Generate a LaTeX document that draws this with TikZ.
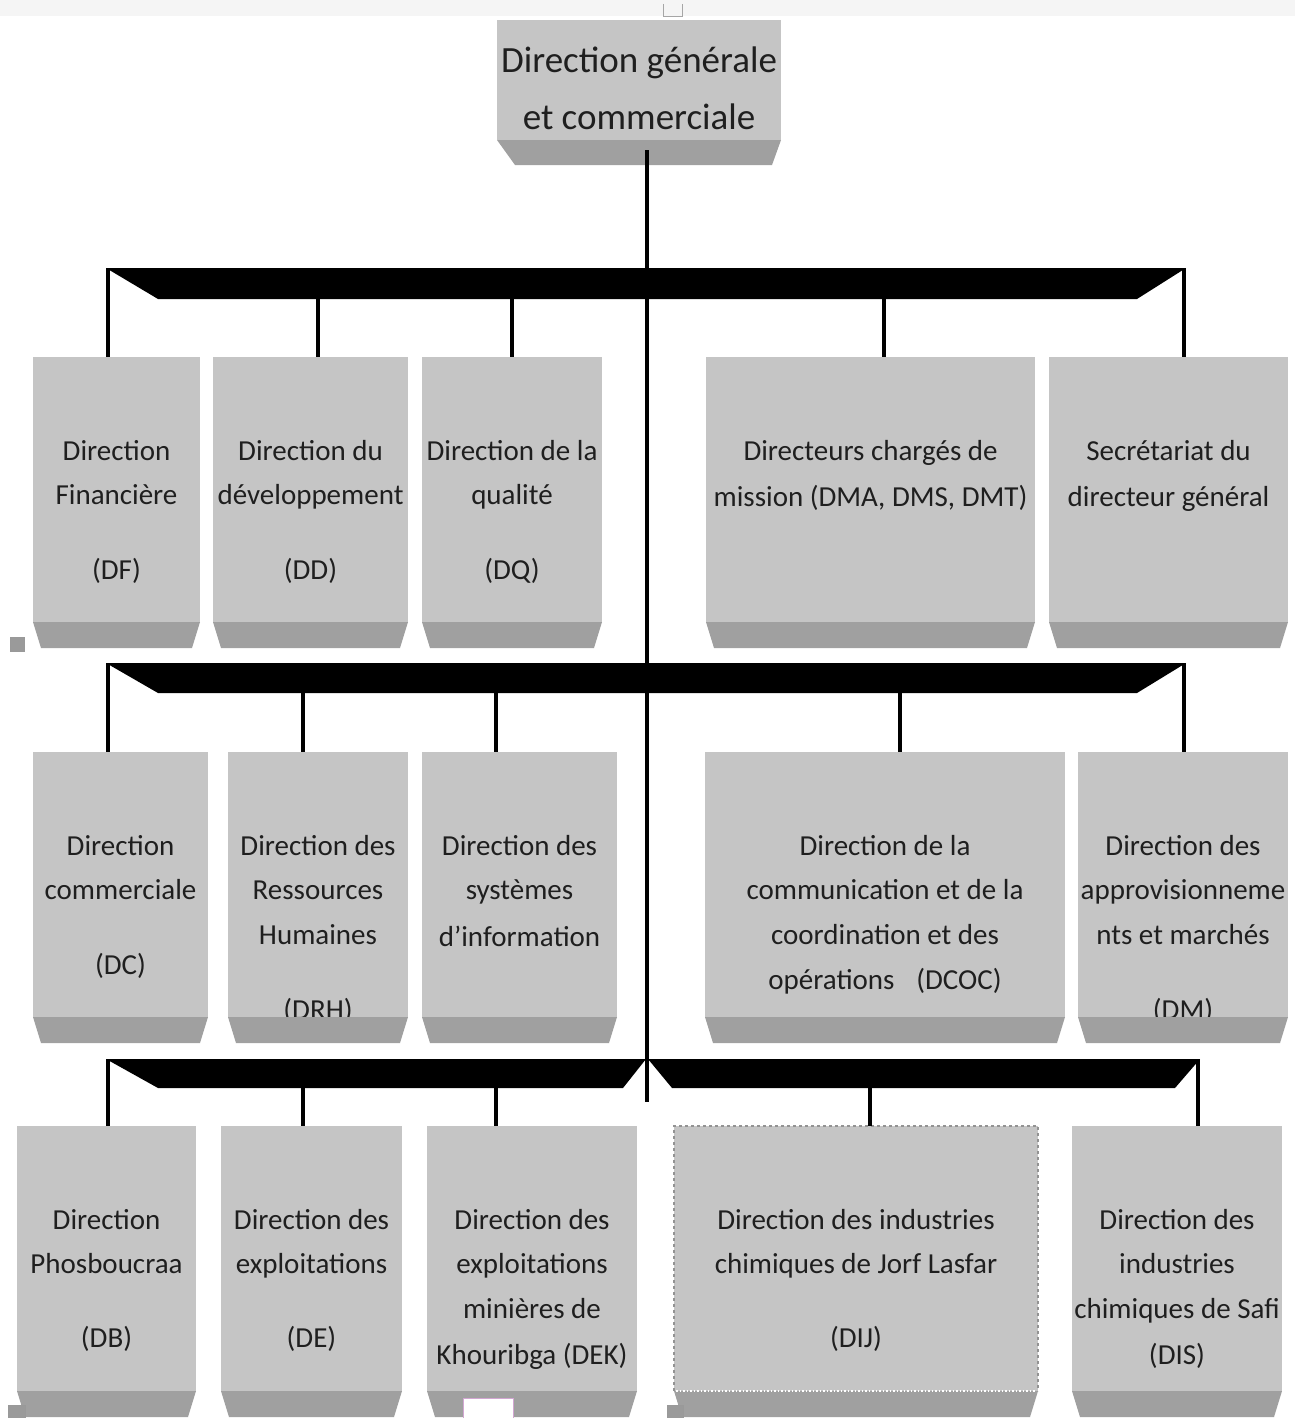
\documentclass[tikz,border=0pt]{standalone}
\usepackage{fontspec}
\setmainfont{Carlito}
\usetikzlibrary{calc}
\definecolor{facegray}{HTML}{C5C5C5}
\definecolor{bevelgray}{HTML}{A0A0A0}
\definecolor{handle}{HTML}{9A9A9A}
\newcommand\facebox[5]{\node[face,minimum width={(#3-#2)*1pt},minimum height={(#5-#4)*1pt}] (#1) at (#2,#4) {};}
\newcommand\bevelbox[2]{\fill[bevelgray] (#1.south west) -- (#1.south east) -- ++(-#2,26) -- ($(#1.south west)+(#2,26)$) -- cycle;}
\newcommand\boxlines[2]{\foreach \o/\t [count=\i] in {#2} {\node[lbl] (#1-\i) at ($(#1.north)+(0,\o)$) {\t};}}
\begin{document}
\begin{tikzpicture}[x=1pt,y=-1pt,
  face/.style={rectangle,fill=facegray,draw=none,inner sep=0pt,outer sep=0pt,anchor=north west},
  lbl/.style={anchor=base,inner sep=0pt,font=\fontsize{29}{34}\selectfont,text=black!88},
  toplbl/.style={anchor=base,inner sep=0pt,font=\fontsize{37}{42}\selectfont,text=black!88},
  conn/.style={line width=4.5pt},
  bar/.style={fill=black}]
\useasboundingbox (0,0) rectangle (1295,1418);
\fill[white] (0,0) rectangle (1295,1418);
\fill[black!4] (0,0) rectangle (1295,16);

% ---- faces
\facebox{top}{497}{781}{20}{140}
\facebox{df}{33}{200}{357}{622}
\facebox{dd}{213}{408}{357}{622}
\facebox{dq}{422}{602}{357}{622}
\facebox{dcm}{706}{1035}{357}{622}
\facebox{sec}{1049}{1288}{357}{622}
\facebox{dc}{33}{208}{752}{1017}
\facebox{drh}{228}{408}{752}{1017}
\facebox{dsi}{422}{617}{752}{1017}
\facebox{dcoc}{705}{1065}{752}{1017}
\facebox{dm}{1078}{1288}{752}{1017}
\facebox{db}{17}{196}{1126}{1391}
\facebox{de}{221}{402}{1126}{1391}
\facebox{dek}{427}{637}{1126}{1391}
\facebox{dij}{674}{1038}{1126}{1391}
\facebox{dis}{1072}{1282}{1126}{1391}

% ---- texts
\node[toplbl] (top-1) at (639,73) {Direction générale};
\node[toplbl] (top-2) at (639,130) {et commerciale};
\boxlines{df}{103/Direction,147/Financière,222/(DF)}
\boxlines{dd}{103/Direction du,147/développement,222/(DD)}
\boxlines{dq}{103/Direction de la,147/qualité,222/(DQ)}
\boxlines{dcm}{103/Directeurs chargés de,149/{mission (DMA, DMS, DMT)}}
\boxlines{sec}{103/Secrétariat du,149/directeur général}
\boxlines{dc}{103/Direction,147/commerciale,222/(DC)}
\boxlines{drh}{103/Direction des,147/Ressources,192/Humaines,267/(DRH)}
\boxlines{dsi}{103/Direction des,147/systèmes,194/d’information}
\boxlines{dcoc}{103/Direction de la,147/communication et de la,192/coordination et des,237/opérations\hspace{0.75em}(DCOC)}
\boxlines{dm}{103/Direction des,147/approvisionneme,192/nts et marchés,267/(DM)}
\boxlines{db}{103/Direction,147/Phosboucraa,221/(DB)}
\boxlines{de}{103/Direction des,147/exploitations,221/(DE)}
\boxlines{dek}{103/Direction des,147/exploitations,192/minières de,238/Khouribga (DEK)}
\boxlines{dij}{103/Direction des industries,147/chimiques de Jorf Lasfar,221/(DIJ)}
\boxlines{dis}{103/Direction des,147/industries,192/chimiques de Safi,238/(DIS)}

% ---- bevels (drawn over text, clipping last lines)
\fill[bevelgray] (top.south west) -- (top.south east) -- ++(-9,25) -- ($(top.south west)+(18,25)$) -- cycle;
\foreach \b in {df,dd,dq,dcm,sec,dc,drh,dsi,dcoc,dm,db,de,dek,dij,dis} {\bevelbox{\b}{8}}

% dashed frame of DIJ
\draw[gray!85,dashed,line width=1.2pt] (dij.south west) -- (dij.north west) -- (dij.north east) -- (dij.south east);
\draw[white,dotted,line width=1.5pt] ($(dij.south west)+(2,0)$) -- ($(dij.south east)+(-2,0)$);

% ---- trunk
\coordinate (trunkTop) at (647,150);
\coordinate (trunkEnd) at (647,1102);
\draw[line width=4pt] (trunkTop) -- (trunkEnd);

% ---- bracket 1
\fill[bar] (106,268) -- (1186,268) -- (1137,299) -- (158,299) -- cycle;
\foreach \x/\b/\y in {108/df/268,318/dd/297,512/dq/297,884/dcm/297,1184/sec/268}
  {\coordinate (j1-\b) at (\x,\y); \draw[conn] (j1-\b) -- (j1-\b |- \b.north);}

% ---- bracket 2
\fill[bar] (106,663) -- (1186,663) -- (1137,693) -- (158,693) -- cycle;
\foreach \x/\b/\y in {108/dc/663,303/drh/691,496/dsi/691,900/dcoc/691,1184/dm/663}
  {\coordinate (j2-\b) at (\x,\y); \draw[conn] (j2-\b) -- (j2-\b |- \b.north);}

% ---- bracket 3 (two halves)
\fill[bar] (106,1059) -- (646,1059) -- (623,1088) -- (158,1088) -- cycle;
\fill[bar] (648,1059) -- (1200,1059) -- (1175,1088) -- (672,1088) -- cycle;
\foreach \x/\b/\y in {108/db/1059,303/de/1086,496/dek/1086,870/dij/1086,1198/dis/1059}
  {\coordinate (j3-\b) at (\x,\y); \draw[conn] (j3-\b) -- (j3-\b |- \b.north);}

% ---- selection handles
\draw[gray!70,line width=1pt] (663,4) -- (663,17) -- (682,17) -- (682,4);
\filldraw[fill=handle,draw=gray!80,line width=0.8pt] (10,637) rectangle (24,651);
\filldraw[fill=handle,draw=gray!80,line width=0.8pt] (8,1405) rectangle (25,1421);
\filldraw[fill=handle,draw=gray!80,line width=0.8pt] (667,1405) rectangle (683,1421);
\filldraw[fill=white,draw=violet!35,line width=1pt] (463,1398) rectangle (513,1421);
\end{tikzpicture}
\end{document}
